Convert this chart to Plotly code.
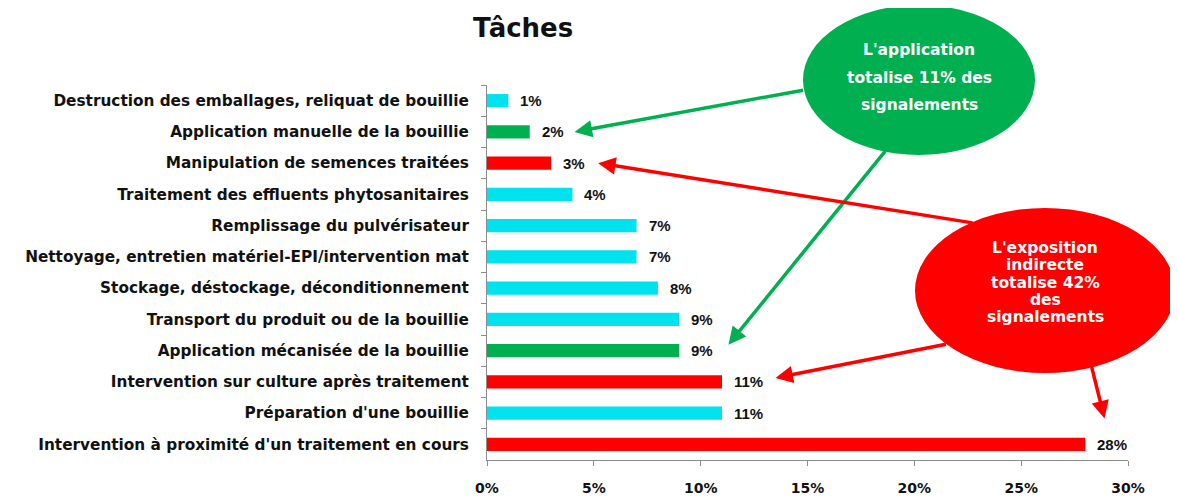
import plotly.graph_objects as go

categories = [
    "Destruction des emballages, reliquat de bouillie",
    "Application manuelle de la bouillie",
    "Manipulation de semences traitées",
    "Traitement des effluents phytosanitaires",
    "Remplissage du pulvérisateur",
    "Nettoyage, entretien matériel-EPI/intervention mat",
    "Stockage, déstockage, déconditionnement",
    "Transport du produit ou de la bouillie",
    "Application mécanisée de la bouillie",
    "Intervention sur culture après traitement",
    "Préparation d'une bouillie",
    "Intervention à proximité d'un traitement en cours",
]
values = [1, 2, 3, 4, 7, 7, 8, 9, 9, 11, 11, 28]
groups = ["autre", "application", "indirecte", "autre", "autre", "autre",
          "autre", "autre", "application", "indirecte", "autre", "indirecte"]
x_ticks = [0, 5, 10, 15, 20, 25, 30]

green_lines = ["L'application", "totalise 11% des", "signalements"]
red_lines = ["L'exposition", "indirecte", "totalise 42%", "des", "signalements"]

CYAN = "#00E2EE"
GREEN = "#00B050"
RED = "#FF0000"
group_colors = {"autre": CYAN, "application": GREEN, "indirecte": RED}

# page body has an 8px margin, so the figure is drawn 8px smaller
OFF = 8
W, H = 1178, 498
L, R, T, B = 487, 1128, 85, 460


def px(xp):
    return (xp - L) / (R - L)


def py(yp):
    return (B - yp) / (B - T)


fig = go.Figure()
fig.add_trace(go.Bar(
    y=categories,
    x=values,
    orientation="h",
    marker=dict(color=[group_colors[g] for g in groups], line=dict(width=0)),
    width=0.42,
    hoverinfo="skip",
))

label_font = dict(family="DejaVu Sans", size=15.3, color="#111111", weight="bold")

fig.update_layout(
    width=W - OFF, height=H - OFF,
    margin=dict(l=L - OFF, r=W - R, t=T - OFF, b=H - B, autoexpand=False),
    plot_bgcolor="white", paper_bgcolor="white",
    showlegend=False,
    xaxis=dict(
        range=[0, 30], tickvals=x_ticks, ticktext=[f"{t}%" for t in x_ticks],
        showgrid=False, zeroline=False, showline=True, linecolor="#8c8c8c",
        linewidth=1, ticks="outside", ticklen=5, tickcolor="#8c8c8c",
        tickfont=dict(family="DejaVu Sans", size=14, color="#111111", weight="bold"),
        ticklabelstandoff=10,
        fixedrange=True,
    ),
    yaxis=dict(
        categoryorder="array", categoryarray=categories,
        range=[len(categories) - 0.5, -0.5], autorange=False,
        showgrid=False, zeroline=False, showline=True, linecolor="#8c8c8c",
        linewidth=1, ticks="outside", ticklen=5, tickcolor="#8c8c8c",
        tickson="boundaries", tickfont=label_font, ticklabelstandoff=14,
        fixedrange=True,
    ),
)

# value labels
for cat, v in zip(categories, values):
    fig.add_annotation(x=v, y=cat, xref="x", yref="y", text=f"<b>{v}%</b>",
                       showarrow=False, xanchor="left", yanchor="middle",
                       xshift=10, yshift=0,
                       font=dict(family="Liberation Sans", size=15, color="#111111"))

# Title
fig.add_annotation(text="<b>Tâches</b>", xref="paper", yref="paper",
                   x=px(523), y=py(28), xanchor="center", yanchor="middle",
                   showarrow=False,
                   font=dict(family="DejaVu Sans", size=26, color="#111111"))

# Arrows
arrow_specs = [
    # head data x, category, tail offset (ax, ay), color, yshift
    (4.1, categories[1], 230, -42, GREEN, 0),
    (11.3, categories[8], 158, -195, GREEN, 6),
    (5.2, categories[2], 376, 60, RED, 0),
    (13.5, categories[9], 172, -34, RED, 4),
    (28.9, categories[11], -15, -60, RED, 26),
]
for hx, cat, ax, ay, col, ys in arrow_specs:
    fig.add_annotation(x=hx, y=cat, xref="x", yref="y", ax=ax, ay=ay,
                       axref="pixel", ayref="pixel", yshift=ys,
                       showarrow=True, arrowhead=2, arrowsize=1,
                       arrowwidth=3.5, arrowcolor=col, text="")

# Ellipses
fig.add_shape(type="circle", xref="paper", yref="paper",
              x0=px(803), x1=px(1035), y0=py(155), y1=py(5),
              fillcolor=GREEN, line=dict(width=0), layer="above")
fig.add_shape(type="circle", xref="paper", yref="paper",
              x0=px(915), x1=px(1175), y0=py(373), y1=py(208),
              fillcolor=RED, line=dict(width=0), layer="above")

bubble_font = dict(family="DejaVu Sans", size=15.5, color="white", weight="bold")
for i, line in enumerate(green_lines):
    fig.add_annotation(text=line, xref="paper", yref="paper",
                       x=px(919), y=py(50 + 27.5 * i), xanchor="center",
                       yanchor="middle", showarrow=False, font=bubble_font)
for i, line in enumerate(red_lines):
    fig.add_annotation(text=line, xref="paper", yref="paper",
                       x=px(1045), y=py(248 + 17.3 * i), xanchor="center",
                       yanchor="middle", showarrow=False, font=bubble_font)

fig.write_html("out.html")
